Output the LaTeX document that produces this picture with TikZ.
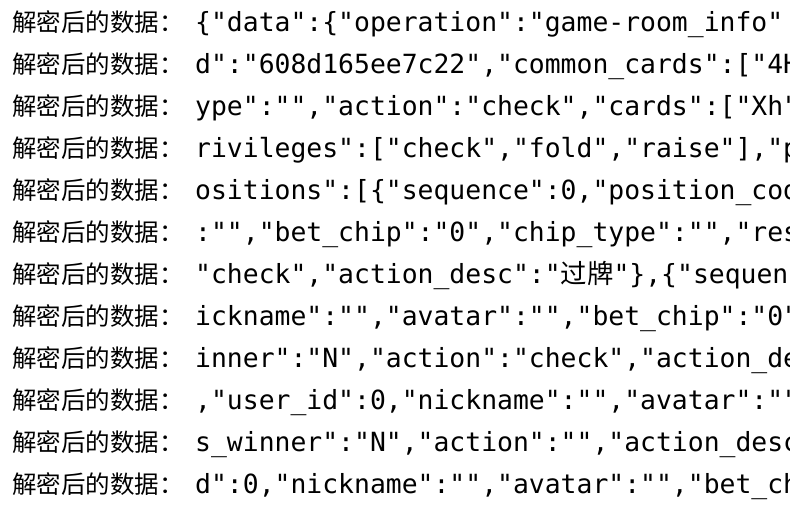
\documentclass[tikz,border=0pt]{standalone}
\usepackage{fontspec}
\newfontfamily\cjk{Noto Sans CJK SC}
\newfontfamily\mono{DejaVu Sans Mono}
\begin{document}
\begin{tikzpicture}[x=1pt,y=-1pt,
  lab/.style={anchor=base west,inner sep=0pt,font=\cjk\fontsize{24.5}{24.5}\selectfont},
  txt/.style={anchor=base west,inner sep=0pt,font=\mono\fontsize{26.4}{26.4}\selectfont}]
\useasboundingbox (0,0) rectangle (790,506);
\clip (0,0) rectangle (790,506);
\fill[white] (0,0) rectangle (790,506);
\foreach \i/\t in {0/{\{"data":\{"operation":"game-room\_info"},
  1/{d":"608d165ee7c22","common\_cards":["4H"},
  2/{ype":"","action":"check","cards":["Xh"},
  3/{rivileges":["check","fold","raise"],"p},
  4/{ositions":[\{"sequence":0,"position\_code},
  5/{:"","bet\_chip":"0","chip\_type":"","res},
  6/{"check","action\_desc":"{\cjk 过牌}"\},\{"sequen},
  7/{ickname":"","avatar":"","bet\_chip":"0"},
  8/{inner":"N","action":"check","action\_de},
  9/{,"user\_id":0,"nickname":"","avatar":""},
  10/{s\_winner":"N","action":"","action\_desc},
  11/{d":0,"nickname":"","avatar":"","bet\_ch}}{
  \node[lab] (l\i) at (12,{31+42*\i}) {解密后的数据：};
  \node[txt] (t\i) at (195,{31+42*\i}) {\t};
}
\end{tikzpicture}
\end{document}
